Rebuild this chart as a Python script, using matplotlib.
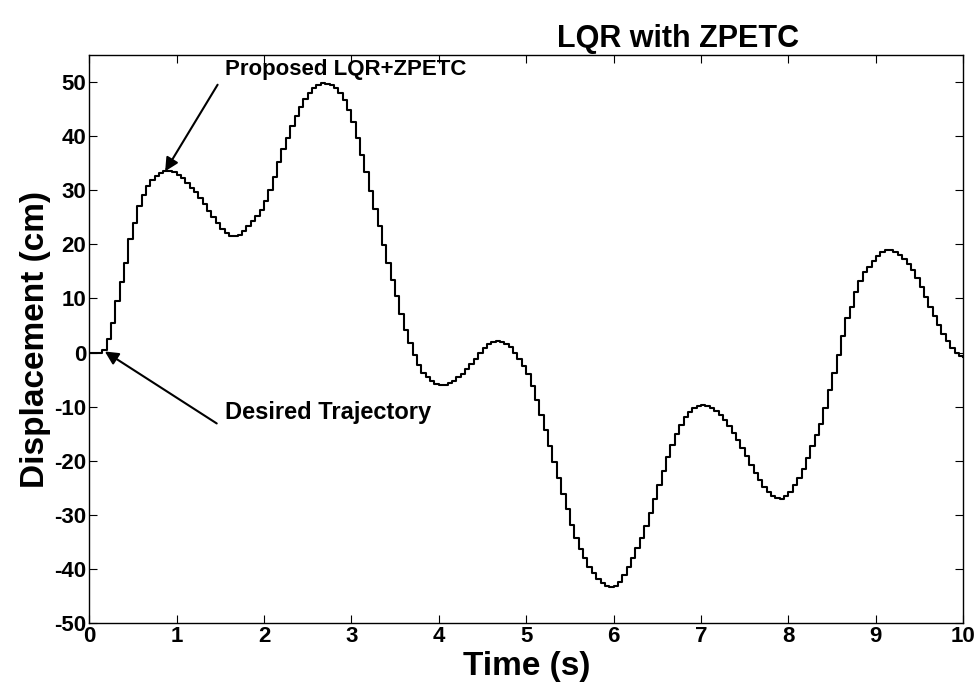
import numpy as np
import matplotlib
matplotlib.use("Agg")
import matplotlib.pyplot as plt

plt.rcParams['font.family'] = ['Liberation Sans', 'DejaVu Sans']
plt.rcParams['font.weight'] = 'bold'

DT = 0.05  # sample time (s)

# displacement (cm), one value per sample
disp = [
    0.0, 0.0, 0.0, 0.5, 2.5, 5.5, 9.5, 13.0, 16.5, 21.0,
    24.0, 27.0, 29.2, 30.8, 31.9, 32.7, 33.2, 33.6, 33.6, 33.3,
    32.9, 32.2, 31.4, 30.5, 29.6, 28.6, 27.4, 26.2, 25.0, 23.9,
    22.9, 22.1, 21.6, 21.5, 21.8, 22.5, 23.4, 24.3, 25.2, 26.4,
    28.0, 30.0, 32.5, 35.2, 37.6, 39.6, 41.8, 43.8, 45.3, 46.8,
    48.0, 48.9, 49.5, 49.8, 49.7, 49.4, 48.9, 47.9, 46.6, 44.8,
    42.6, 39.6, 36.5, 33.3, 29.8, 26.5, 23.3, 19.8, 16.5, 13.5,
    10.4, 7.2, 4.2, 1.7, -0.5, -2.3, -3.7, -4.6, -5.3, -5.8,
    -6.0, -6.0, -5.7, -5.2, -4.6, -3.9, -3.1, -2.1, -1.1, -0.1,
    0.8, 1.5, 2.0, 2.2, 2.0, 1.6, 1.0, 0.0, -1.1, -2.4,
    -4.0, -6.2, -8.8, -11.5, -14.3, -17.3, -20.3, -23.2, -26.1, -29.0,
    -31.8, -34.2, -36.3, -38.0, -39.6, -40.8, -41.8, -42.6, -43.1, -43.4,
    -43.2, -42.4, -41.2, -39.7, -38.0, -36.2, -34.3, -32.0, -29.6, -27.0,
    -24.4, -21.8, -19.3, -17.0, -15.0, -13.4, -12.0, -11.0, -10.3, -9.9,
    -9.7, -9.8, -10.2, -10.8, -11.5, -12.4, -13.5, -14.8, -16.2, -17.7,
    -19.2, -20.7, -22.2, -23.6, -24.9, -25.8, -26.5, -26.9, -27.0, -26.6,
    -25.7, -24.5, -23.1, -21.6, -19.5, -17.2, -15.2, -13.2, -10.2, -7.0,
    -3.8, -0.5, 3.0, 6.3, 8.5, 11.2, 13.2, 14.8, 15.9, 17.0,
    17.8, 18.5, 18.9, 18.9, 18.6, 18.1, 17.3, 16.4, 15.2, 13.8,
    12.1, 10.3, 8.5, 6.8, 5.1, 3.5, 2.1, 0.9, 0.0, -0.6,
    -0.8,
]
t = np.arange(len(disp)) * DT

xticks = list(range(0, 11))
yticks = list(range(-50, 51, 10))

fig = plt.figure(figsize=(9.79, 6.87), dpi=100)
ax = fig.add_axes([0.091, 0.093, 0.893, 0.827])

ax.plot(t, disp, color='black', lw=1.5, drawstyle='steps-post')

ax.set_xlim(0, 10)
ax.set_ylim(-50, 55)
ax.set_xticks(xticks)
ax.set_yticks(yticks)
ax.set_yticklabels([str(v) for v in yticks])  # plain hyphen like the original
ax.tick_params(direction='in', top=True, right=True, length=6, width=0.8,
               labelsize=16, pad=2)
for lab in ax.get_xticklabels() + ax.get_yticklabels():
    lab.set_fontweight('bold')
for sp in ax.spines.values():
    sp.set_linewidth(1.0)

ax.set_title('LQR with ZPETC', fontsize=22, fontweight='bold', x=0.674, pad=6)
ax.set_xlabel('Time (s)', fontsize=24, fontweight='bold', labelpad=3)
ax.set_ylabel('Displacement (cm)', fontsize=24, fontweight='bold', labelpad=2)

# arrows drawn separately from their labels
arrow = dict(arrowstyle='-|>', color='black', lw=1.5, mutation_scale=20,
             shrinkA=0, shrinkB=0)
ax.annotate('', xy=(0.87, 33.5), xytext=(1.47, 49.5), arrowprops=arrow)
ax.text(2.93, 52.3, 'Proposed LQR+ZPETC', fontsize=16, fontweight='bold',
        ha='center', va='center')
ax.annotate('', xy=(0.18, 0.2), xytext=(1.46, -13.1), arrowprops=arrow)
ax.text(2.73, -11.0, 'Desired Trajectory', fontsize=17, fontweight='bold',
        ha='center', va='center')

fig.savefig('out.png', dpi=100)
